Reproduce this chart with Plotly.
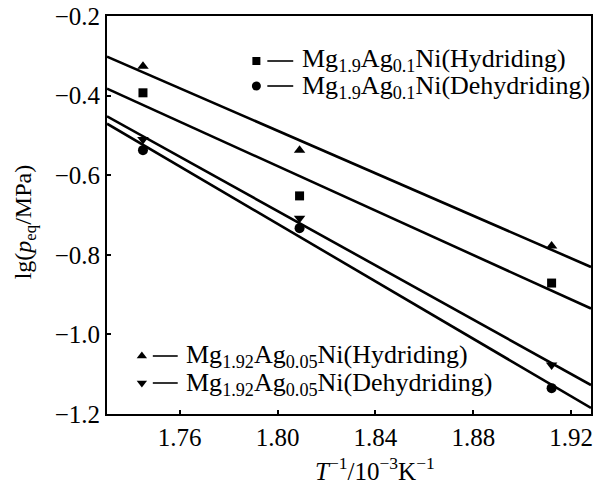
import numpy as np
import plotly.graph_objects as go

# ---- data ----
inv_T = [1.745, 1.809, 1.912]  # T^-1 / 10^-3 K^-1
mg19_hyd = [-0.393, -0.652, -0.871]     # Mg1.9Ag0.1Ni (Hydriding)  square
mg19_dehyd = [-0.537, -0.733, -1.135]   # Mg1.9Ag0.1Ni (Dehydriding) circle
mg192_hyd = [-0.326, -0.537, -0.778]    # Mg1.92Ag0.05Ni (Hydriding) triangle-up
mg192_dehyd = [-0.510, -0.708, -1.077]  # Mg1.92Ag0.05Ni (Dehydriding) triangle-down

series_names = [
    "Mg<sub>1.9</sub>Ag<sub>0.1</sub>Ni(Hydriding)",
    "Mg<sub>1.9</sub>Ag<sub>0.1</sub>Ni(Dehydriding)",
    "Mg<sub>1.92</sub>Ag<sub>0.05</sub>Ni(Hydriding)",
    "Mg<sub>1.92</sub>Ag<sub>0.05</sub>Ni(Dehydriding)",
]
series_values = [mg19_hyd, mg19_dehyd, mg192_hyd, mg192_dehyd]
symbols = ["square", "circle", "triangle-up", "triangle-down"]
marker_sizes = [9, 10, 10, 10]

x_ticks = [1.76, 1.80, 1.84, 1.88, 1.92]
y_ticks = [-1.2, -1.0, -0.8, -0.6, -0.4, -0.2]

# ---- layout geometry ----
W, H = 594, 490
ML, MR, MT, MB = 107, 1, 16, 76
XR = [1.7303, 1.9281]
YR = [-1.2, -0.2]
FONT = "Liberation Serif, Times New Roman, serif"

fig = go.Figure()

xfit = np.array(XR)
for vals, sym, ms in zip(series_values, symbols, marker_sizes):
    slope, icpt = np.polyfit(inv_T, vals, 1)
    fig.add_trace(go.Scatter(x=xfit, y=slope * xfit + icpt, mode="lines",
                             line=dict(color="black", width=2.6),
                             showlegend=False, hoverinfo="skip"))
    fig.add_trace(go.Scatter(x=inv_T, y=vals, mode="markers",
                             marker=dict(symbol=sym, size=ms, color="black"),
                             showlegend=False))

# ---- manual legends (paper fractions in overlay axes) ----
pw = W - ML - MR
ph = H - MT - MB
def px(xp):
    return (xp - ML) / pw
def py(yp):
    return 1 - (yp - MT) / ph

# marker x, marker y, line x0, line x1, text x, text y
legend_rows = [
    (257, 61, 268, 294, 301, 60),
    (257, 86, 268, 294, 301, 87),
    (142, 356, 153, 178, 184, 356),
    (142, 383, 153, 178, 184, 384),
]
for (mx, my, l0, l1, tx, ty), sym, ms, name in zip(legend_rows, symbols, marker_sizes, series_names):
    fig.add_trace(go.Scatter(x=[px(mx)], y=[py(my)], xaxis="x2", yaxis="y2",
                             mode="markers",
                             marker=dict(symbol=sym, size=ms - 1, color="black"),
                             showlegend=False, hoverinfo="skip"))
    fig.add_shape(type="line", xref="paper", yref="paper",
                  x0=px(l0), x1=px(l1), y0=py(my), y1=py(my),
                  line=dict(color="black", width=1.6))
    fig.add_annotation(text=name, xref="paper", yref="paper",
                       x=px(tx), y=py(ty), xanchor="left", yanchor="middle",
                       showarrow=False, font=dict(family=FONT, size=26, color="black"))

# axis titles as annotations
fig.add_annotation(text="lg(<i>p</i><sub>eq</sub>/MPa)", xref="paper", yref="paper",
                   x=px(25), y=py(222), textangle=-90, showarrow=False,
                   xanchor="center", yanchor="middle",
                   font=dict(family=FONT, size=24, color="black"))
fig.add_annotation(text="<i>T</i><sup>−1</sup>/10<sup>−3</sup>K<sup>−1</sup>",
                   xref="paper", yref="paper",
                   x=px(376), y=py(469), showarrow=False,
                   xanchor="center", yanchor="middle",
                   font=dict(family=FONT, size=25, color="black"))

axis_common = dict(showgrid=False, zeroline=False, showline=True, linecolor="black",
                   linewidth=2, mirror=True, ticks="inside", ticklen=4, tickwidth=1.5,
                   tickcolor="black",
                   tickfont=dict(family=FONT, size=25, color="black"))

fig.update_layout(
    width=W, height=H,
    margin=dict(l=ML, r=MR, t=MT, b=MB),
    paper_bgcolor="white", plot_bgcolor="white",
    xaxis=dict(range=XR, tickvals=x_ticks, ticktext=[f"{v:.2f}" for v in x_ticks],
               **axis_common),
    yaxis=dict(range=YR, tickvals=y_ticks, ticktext=[f"\u2212{abs(v):.1f}" for v in y_ticks],
               **axis_common),
    xaxis2=dict(range=[0, 1], overlaying="x", visible=False, fixedrange=True),
    yaxis2=dict(range=[0, 1], overlaying="y", visible=False, fixedrange=True),
    showlegend=False,
)

fig.write_html("out.html")
